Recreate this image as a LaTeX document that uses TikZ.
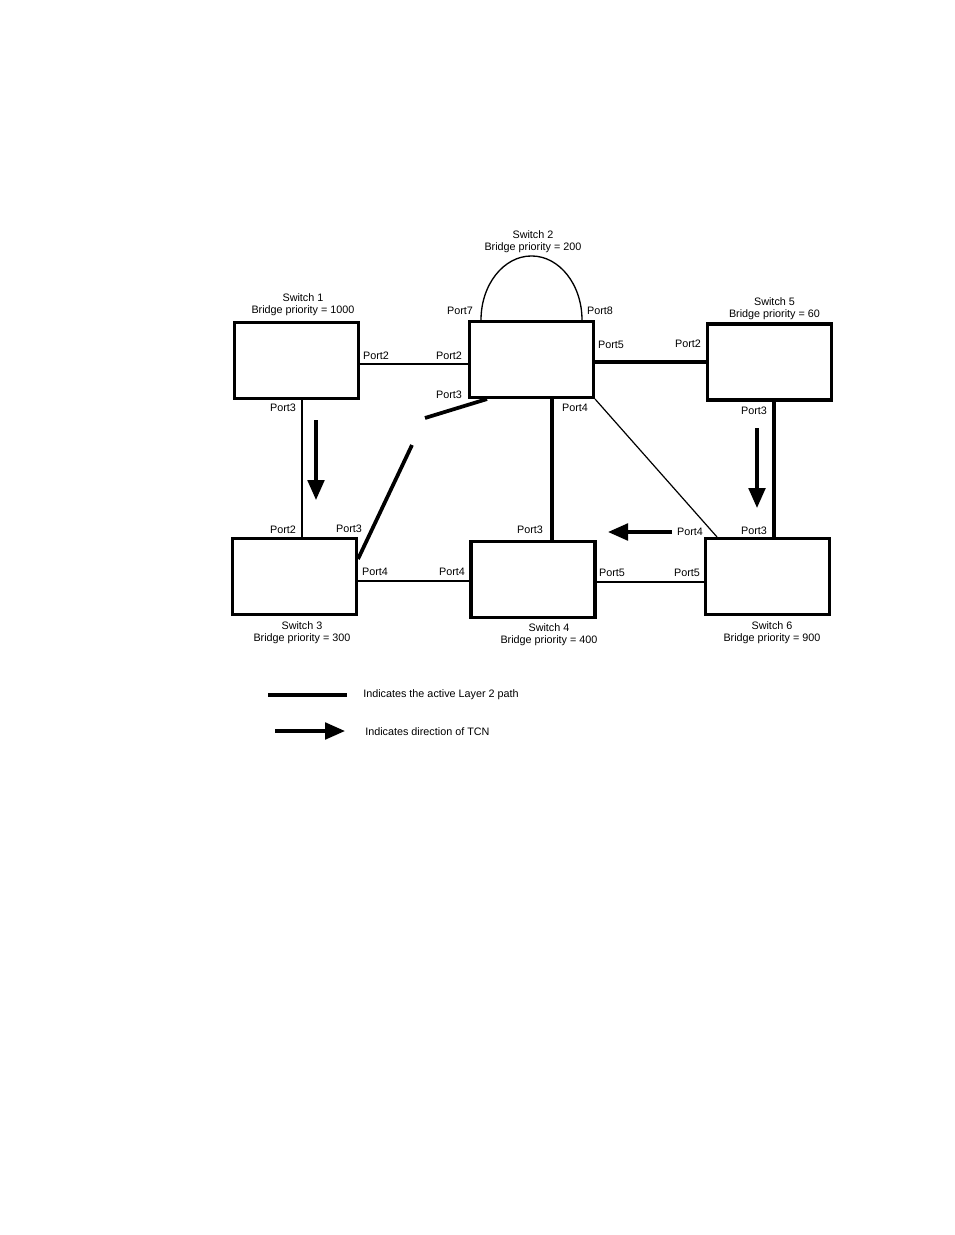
\documentclass[tikz,border=0pt]{standalone}
\usepackage{fontspec}
\setmainfont{Liberation Sans}
\usetikzlibrary{arrows.meta}
\begin{document}
\begin{tikzpicture}[x=0.75pt,y=-0.75pt,
 sw/.style={draw, line width=2.3pt, minimum width=93pt, minimum height=57pt, inner sep=0pt},
 lbl/.style={font=\fontsize{8.1pt}{9pt}\selectfont, inner sep=0pt, align=center},
 thk/.style={line width=2.6pt},
 med/.style={line width=2.1pt},
 thn/.style={line width=0.9pt},
 tcn/.style={line width=2.5pt, -{Triangle[length=15pt,width=12.5pt]}}]
\useasboundingbox (0,0) rectangle (954,1235);
% switches
\node[sw] (s1) at (296.5,360.5) {};
\node[sw] (s2) at (531.5,359.5) {};
\node[sw] (s5) at (769.5,362) {};
\node[sw] (s3) at (294.5,576.5) {};
\node[sw] (s4) at (533,579.5) {};
\node[sw] (s6) at (767.5,576.5) {};
% switch labels
\node[lbl] (t1) at (303,305) {Switch 1\\Bridge priority = 1000};
\node[lbl] (t2) at (533,241.5) {Switch 2\\Bridge priority = 200};
\node[lbl] (t5) at (774.5,308.5) {Switch 5\\Bridge priority = 60};
\node[lbl] (t3) at (302,633) {Switch 3\\Bridge priority = 300};
\node[lbl] (t4) at (549,635) {Switch 4\\Bridge priority = 400};
\node[lbl] (t6) at (772,633) {Switch 6\\Bridge priority = 900};
% port labels
\node[lbl] (p12) at (376,356) {Port2};
\node[lbl] (p13) at (283,408) {Port3};
\node[lbl] (p22) at (449,356) {Port2};
\node[lbl] (p23) at (449,395) {Port3};
\node[lbl] (p27) at (460,311) {Port7};
\node[lbl] (p28) at (600,311) {Port8};
\node[lbl] (p25) at (611,345) {Port5};
\node[lbl] (p24) at (575,408) {Port4};
\node[lbl] (p52) at (688,344) {Port2};
\node[lbl] (p53) at (754,411) {Port3};
\node[lbl] (p32) at (283,530) {Port2};
\node[lbl] (p33) at (349,529) {Port3};
\node[lbl] (p34) at (375,572) {Port4};
\node[lbl] (p44) at (452,572) {Port4};
\node[lbl] (p43) at (530,530) {Port3};
\node[lbl] (p45) at (612,573) {Port5};
\node[lbl] (p64) at (690,532) {Port4};
\node[lbl] (p65) at (687,573) {Port5};
\node[lbl] (p63) at (754,531) {Port3};
% links
\draw[med] (s1.east |- 0,364) -- (s2.west |- 0,364);
\draw[thk] (s2.east |- 0,362) -- (s5.west |- 0,362);
\draw[thn] (s1.south -| 302,0) -- (s3.north -| 302,0);
\draw[thk] (s2.south -| 552,0) -- (s4.north -| 552,0);
\draw[thk] (s5.south -| 774,0) -- (s6.north -| 774,0);
\draw[med] (s3.east |- 0,581) -- (s4.west |- 0,581);
\draw[thn] (s4.east |- 0,582) -- (s6.west |- 0,582);
\draw[thn] (s2.south east) -- (s6.north -| 717,0);
\coordinate (g1) at (412,445);
\coordinate (g2) at (425,418);
\draw[line width=2.8pt] (s3.east |- 0,559) -- (g1);
\draw[line width=2.8pt] (g2) -- (s2.south -| 487,0);
\draw[line width=1pt] (s2.north -| 481,0) arc[start angle=180,end angle=360,x radius=50.5,y radius=64];
% TCN arrows
\coordinate (a1s) at (316,420); \coordinate (a1e) at (316,500);
\coordinate (a2s) at (757,428); \coordinate (a2e) at (757,508);
\coordinate (a3s) at (672,532); \coordinate (a3e) at (608,532);
\draw[tcn] (a1s) -- (a1e);
\draw[tcn] (a2s) -- (a2e);
\draw[tcn] (a3s) -- (a3e);
% legend
\coordinate (l1s) at (268,695); \coordinate (l1e) at (347,695);
\coordinate (l2s) at (275,731); \coordinate (l2e) at (345,731);
\draw[line width=2.8pt] (l1s) -- (l1e);
\draw[tcn] (l2s) -- (l2e);
\node[lbl, anchor=west] (lt1) at (363,695) {Indicates the active Layer 2 path};
\node[lbl, anchor=west] (lt2) at (365,731.5) {Indicates direction of TCN};
\end{tikzpicture}
\end{document}
